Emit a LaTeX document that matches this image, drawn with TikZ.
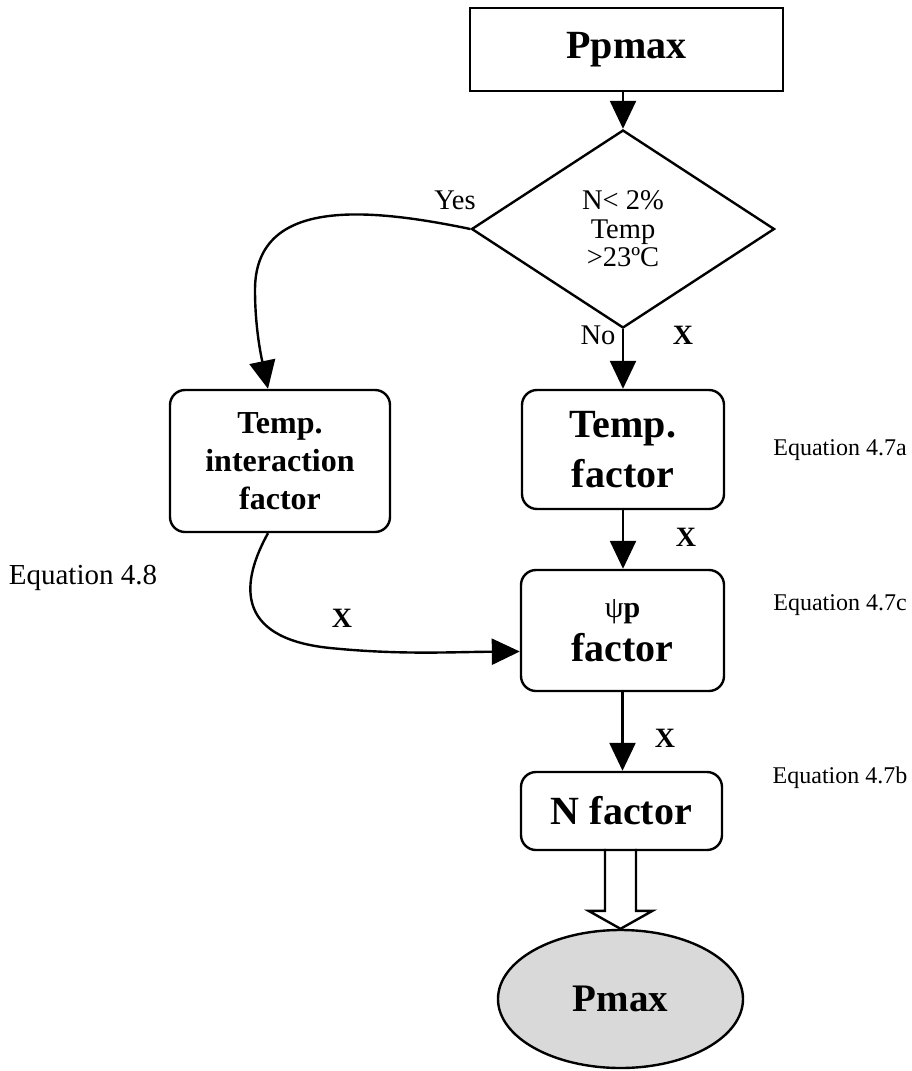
\documentclass[tikz,border=0pt]{standalone}
\usepackage{fontspec}
\setmainfont{Liberation Serif}
\usetikzlibrary{shapes.geometric,arrows.meta,calc}
\begin{document}
\begin{tikzpicture}[x=1pt,y=-1pt,
  line width=2.4pt,
  arr/.style={-{Triangle[length=28pt,width=26pt]}},
  box/.style={draw, rounded corners=15pt, align=center, inner sep=0pt},
  big/.style={font=\fontsize{40}{50}\selectfont\bfseries},
  lab/.style={font=\fontsize{28.5}{28.5}\selectfont},
  xlab/.style={font=\fontsize{28}{30}\selectfont\bfseries},
  eq/.style={font=\fontsize{24}{26}\selectfont},
  hollow/.style={draw, line width=2.4pt, line join=miter},
]
\useasboundingbox (0,0) rectangle (912,1071);

% nodes
\node[draw, minimum width=313pt, minimum height=83pt, inner sep=0pt, big, line width=2.8pt] (pp) at (626.5,49.5) {Ppmax};
\node[draw, diamond, minimum width=303pt, minimum height=198pt, inner sep=0pt, lab, align=center] (dia) at (623,229) {N< 2\%\\Temp\\>23ºC};
\node[box, minimum width=202pt, minimum height=119pt, big] (tf) at (623,449.5) {Temp.\\factor};
\node[box, minimum width=220pt, minimum height=142pt, font=\fontsize{32}{38}\selectfont\bfseries] (tib) at (280,461) {Temp.\\interaction\\factor};
\node[box, minimum width=203pt, minimum height=121pt, big, text depth=0pt] (psi) at (622.5,630.5) {{\fontsize{30}{30}\selectfont\mdseries ψ\textbf{p}}\\[-6pt]factor};
\node[box, minimum width=201pt, minimum height=78pt, big] (nf) at (621.5,811) {N factor};
\node[draw, ellipse, minimum width=245pt, minimum height=138pt, fill=black!15, inner sep=0pt, font=\fontsize{39}{40}\selectfont\bfseries] (el) at (620.5,999) {Pmax};

% labels
\node[lab] (yes) at (455,200) {Yes};
\node[lab] (no) at (598,335) {No};
\node[xlab] (x1) at (683,335) {X};
\node[xlab] (x2) at (686,537) {X};
\node[xlab] (x3) at (342,618) {X};
\node[xlab] (x4) at (665,738) {X};
\node[font=\fontsize{29}{31}\selectfont] (e48) at (83,578) {Equation 4.8};
\node[eq] (e47a) at (840,450) {Equation 4.7a};
\node[eq] (e47c) at (840,605) {Equation 4.7c};
\node[eq] (e47b) at (840,778) {Equation 4.7b};

% connectors
\draw[arr] (pp.south -| dia.north) -- (dia.north);
\draw[arr] (dia.south) -- (tf.north);
\draw[arr] (tf.south) -- (tf.south |- psi.north);
\draw[arr] (psi.south) -- (psi.south |- nf.north);
\draw[arr] (dia.west) .. controls (360,206) and (255,200) .. (255,290)
  .. controls (255,330) and (262,360) .. ([xshift=-12pt]tib.north);
\draw[arr] ([xshift=-12pt]tib.south) .. controls (242,580) and (232,638) .. (330,648)
  .. controls (400,655) and (450,652) .. ([yshift=-21pt]psi.west);

% hollow arrow
\draw[hollow] ($(el.north)+(-15.5,-80)$) -- ($(el.north)+(-15.5,-18)$) -- ($(el.north)+(-32,-18)$) -- (el.north)
  -- ($(el.north)+(32,-18)$) -- ($(el.north)+(15.5,-18)$) -- ($(el.north)+(15.5,-80)$);
\end{tikzpicture}
\end{document}
